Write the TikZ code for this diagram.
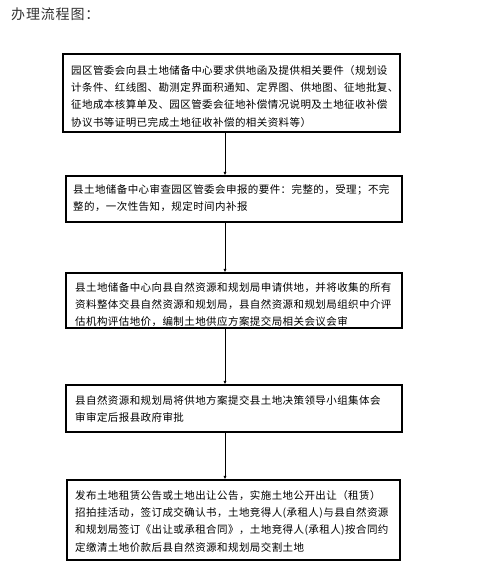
\documentclass[tikz,border=0pt]{standalone}
\usepackage{fontspec}
\usetikzlibrary{fit,arrows.meta}
\newfontfamily\cjk[LetterSpace=4]{Noto Sans CJK SC}
\newfontfamily\cjktitle[LetterSpace=6]{Noto Sans CJK SC}
\begin{document}
\begin{tikzpicture}[x=1pt,y=-1pt,
  stepbox/.style={draw=black,line width=1.1pt,inner sep=0pt},
  boxtext/.style={anchor=north west,inner sep=0pt,align=left,font=\cjk\fontsize{10.5}{17.3}\selectfont},
  flow/.style={draw=black,line width=0.8pt,-{Latex[length=3.5pt,width=3pt]}}]
\useasboundingbox (0,0) rectangle (481,576);
\node[anchor=west,inner sep=0pt,text=black!80,font=\cjktitle\fontsize{14}{16}\selectfont] (title) at (11,14) {办理流程图：};
% boxes
\node[stepbox,fit={(63,54) (400,132)}] (b1) {};
\node[stepbox,fit={(66,176) (402,222)}] (b2) {};
\node[stepbox,fit={(66,273) (402,328)}] (b3) {};
\node[stepbox,fit={(66,385) (402,432)}] (b4) {};
\node[stepbox,fit={(67,480) (400,560)}] (b5) {};
% texts
\node[boxtext] (t1) at (71,65) {园区管委会向县土地储备中心要求供地函及提供相关要件（规划设\\计条件、红线图、勘测定界面积通知、定界图、供地图、征地批复、\\征地成本核算单及、园区管委会征地补偿情况说明及土地征收补偿\\协议书等证明已完成土地征收补偿的相关资料等）};
\node[boxtext] (t2) at (73,184) {县土地储备中心审查园区管委会申报的要件：完整的，受理；不完\\整的，一次性告知，规定时间内补报};
\node[boxtext] (t3) at (75,282) {县土地储备中心向县自然资源和规划局申请供地，并将收集的所有\\资料整体交县自然资源和规划局，县自然资源和规划局组织中介评\\估机构评估地价，编制土地供应方案提交局相关会议会审};
\node[boxtext] (t4) at (75,395) {县自然资源和规划局将供地方案提交县土地决策领导小组集体会\\审审定后报县政府审批};
\node[boxtext] (t5) at (75,490) {发布土地租赁公告或土地出让公告，实施土地公开出让（租赁）\\招拍挂活动，签订成交确认书，土地竞得人(承租人)与县自然资源\\和规划局签订《出让或承租合同》，土地竞得人(承租人)按合同约\\定缴清土地价款后县自然资源和规划局交割土地};
% arrows
\coordinate (ax) at (225,0);
\draw[flow] (b1.south -| ax) -- (b2.north -| ax);
\draw[flow] (b2.south -| ax) -- (b3.north -| ax);
\draw[flow] (b3.south -| ax) -- (b4.north -| ax);
\draw[flow] (b4.south -| ax) -- (b5.north -| ax);
\end{tikzpicture}
\end{document}
